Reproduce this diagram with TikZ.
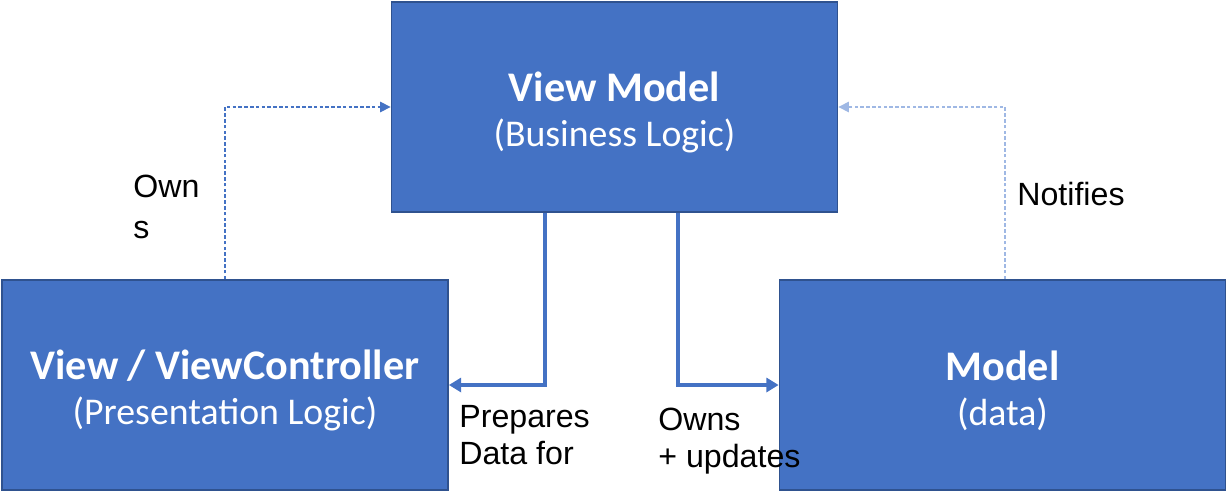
\documentclass[tikz,border=0pt]{standalone}
\usepackage{fontspec}
\setmainfont{Liberation Sans}
\newfontfamily\boxfont{Carlito}
\usetikzlibrary{arrows.meta}
\definecolor{boxblue}{HTML}{4472C4}
\definecolor{boxedge}{HTML}{2F528F}
\definecolor{lightdash}{HTML}{9FB8E4}
\newcommand{\sublabel}[1]{{\fontsize{21.5}{25.5}\selectfont #1}}
\tikzset{>={Triangle[length=7pt,width=8pt]}}
\tikzset{
  block/.style={draw=boxedge, line width=1pt, fill=boxblue, minimum width=8.92cm, minimum height=4.2cm, text=white, align=center, font=\boxfont\fontsize{24}{25.5}\selectfont},
  owner/.style={draw=boxblue, line width=2.8pt, ->},
  notice/.style={line width=0.6pt, dash pattern=on 2pt off 1.3pt, ->, >={Triangle[length=6pt,width=6pt]}},
  lbl/.style={font=\fontsize{18.3}{21}\selectfont, align=left, inner sep=0pt, anchor=north west}
}

\begin{document}
\begin{tikzpicture}
    \useasboundingbox (0,0) rectangle (24.54,-9.9);
    \node[block] (vm) at (12.29,-2.14) {\rule{0pt}{23pt}\textbf{View Model}\\\sublabel{(Business Logic)}};
    \node[block] (view) at (4.5,-7.7) {\rule{0pt}{23pt}\textbf{View / ViewController}\\\sublabel{(Presentation Logic)}};
    \node[block] (model) at (20.05,-7.7) {\rule{0pt}{23pt}\textbf{Model}\\\sublabel{(data)}};

    % view owns view model
    \draw[notice, draw=boxblue] (view.north) |- (vm.west);
    % model notifies view model
    \draw[notice, draw=lightdash] ([xshift=0.05cm]model.north) |- (vm.east);

    \coordinate (prep) at ([xshift=-1.39cm]vm.south);
    \coordinate (upd) at ([xshift=1.27cm]vm.south);
    % view model prepares data for view
    \draw[owner] (prep) |- (view.east);
    % view model owns + updates model
    \draw[owner] (upd) |- (model.west);

    \node[lbl] (ownlbl) at (2.66,-3.5) {Own\\[2pt]s};
    \node[lbl] (notlbl) at (20.34,-3.64) {Notifies};
    \node[lbl] (preplbl) at (9.18,-8.1) {Prepares\\Data for};
    \node[lbl] (updlbl) at (13.16,-8.16) {Owns\\+ updates};
\end{tikzpicture}
\end{document}
